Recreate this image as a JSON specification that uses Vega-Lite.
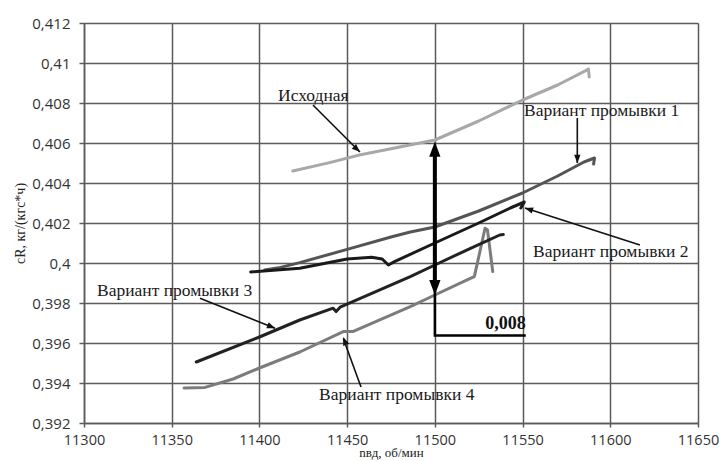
{
  "$schema": "https://vega.github.io/schema/vega-lite/v6.json",
  "width": 614,
  "height": 400,
  "autosize": {"type": "none"},
  "padding": {"left": 84, "top": 23, "right": 24, "bottom": 38},
  "background": "white",
  "config": {"view": {"stroke": null}},
  "datasets": {
    "curves": [
      {"s": "Исходная", "i": 1, "n": 11419, "c": 0.4046},
      {"s": "Исходная", "i": 2, "n": 11440, "c": 0.40502},
      {"s": "Исходная", "i": 3, "n": 11457, "c": 0.4054},
      {"s": "Исходная", "i": 4, "n": 11480, "c": 0.4058},
      {"s": "Исходная", "i": 5, "n": 11500, "c": 0.40615},
      {"s": "Исходная", "i": 6, "n": 11525, "c": 0.4071},
      {"s": "Исходная", "i": 7, "n": 11550, "c": 0.40815},
      {"s": "Исходная", "i": 8, "n": 11570, "c": 0.4089},
      {"s": "Исходная", "i": 9, "n": 11586, "c": 0.40962},
      {"s": "Исходная", "i": 10, "n": 11587.5, "c": 0.4097},
      {"s": "Исходная", "i": 11, "n": 11588, "c": 0.4093},

      {"s": "Вариант 4", "i": 1, "n": 11357, "c": 0.39375},
      {"s": "Вариант 4", "i": 2, "n": 11369, "c": 0.39378},
      {"s": "Вариант 4", "i": 3, "n": 11385, "c": 0.3942},
      {"s": "Вариант 4", "i": 4, "n": 11400, "c": 0.39475},
      {"s": "Вариант 4", "i": 5, "n": 11423, "c": 0.39555},
      {"s": "Вариант 4", "i": 6, "n": 11447.8, "c": 0.39657},
      {"s": "Вариант 4", "i": 7, "n": 11453.5, "c": 0.39658},
      {"s": "Вариант 4", "i": 8, "n": 11486, "c": 0.39782},
      {"s": "Вариант 4", "i": 9, "n": 11500, "c": 0.3984},
      {"s": "Вариант 4", "i": 10, "n": 11519, "c": 0.39918},
      {"s": "Вариант 4", "i": 11, "n": 11522.5, "c": 0.39932},
      {"s": "Вариант 4", "i": 12, "n": 11525.5, "c": 0.4005},
      {"s": "Вариант 4", "i": 13, "n": 11528.6, "c": 0.40174},
      {"s": "Вариант 4", "i": 14, "n": 11530, "c": 0.40165},
      {"s": "Вариант 4", "i": 15, "n": 11533, "c": 0.39957},

      {"s": "Вариант 1", "i": 1, "n": 11403, "c": 0.39965},
      {"s": "Вариант 1", "i": 2, "n": 11412, "c": 0.39978},
      {"s": "Вариант 1", "i": 3, "n": 11423, "c": 0.40002},
      {"s": "Вариант 1", "i": 4, "n": 11450, "c": 0.40068},
      {"s": "Вариант 1", "i": 5, "n": 11475, "c": 0.4013},
      {"s": "Вариант 1", "i": 6, "n": 11486, "c": 0.40155},
      {"s": "Вариант 1", "i": 7, "n": 11500, "c": 0.4018},
      {"s": "Вариант 1", "i": 8, "n": 11525, "c": 0.4026},
      {"s": "Вариант 1", "i": 9, "n": 11550, "c": 0.4035},
      {"s": "Вариант 1", "i": 10, "n": 11570, "c": 0.40435},
      {"s": "Вариант 1", "i": 11, "n": 11585, "c": 0.40505},
      {"s": "Вариант 1", "i": 12, "n": 11591, "c": 0.40525},
      {"s": "Вариант 1", "i": 13, "n": 11590.5, "c": 0.40495},

      {"s": "Вариант 3", "i": 1, "n": 11364, "c": 0.39505},
      {"s": "Вариант 3", "i": 2, "n": 11400, "c": 0.3963},
      {"s": "Вариант 3", "i": 3, "n": 11423, "c": 0.39715},
      {"s": "Вариант 3", "i": 4, "n": 11442, "c": 0.39774},
      {"s": "Вариант 3", "i": 5, "n": 11443.7, "c": 0.39757},
      {"s": "Вариант 3", "i": 6, "n": 11446, "c": 0.39779},
      {"s": "Вариант 3", "i": 7, "n": 11486, "c": 0.39932},
      {"s": "Вариант 3", "i": 8, "n": 11500, "c": 0.3999},
      {"s": "Вариант 3", "i": 9, "n": 11520, "c": 0.40072},
      {"s": "Вариант 3", "i": 10, "n": 11537, "c": 0.4014},
      {"s": "Вариант 3", "i": 11, "n": 11539, "c": 0.40142},

      {"s": "Вариант 2", "i": 1, "n": 11395, "c": 0.39955},
      {"s": "Вариант 2", "i": 2, "n": 11423, "c": 0.39974},
      {"s": "Вариант 2", "i": 3, "n": 11450, "c": 0.4002},
      {"s": "Вариант 2", "i": 4, "n": 11464, "c": 0.40029},
      {"s": "Вариант 2", "i": 5, "n": 11470, "c": 0.4002},
      {"s": "Вариант 2", "i": 6, "n": 11473.5, "c": 0.3999},
      {"s": "Вариант 2", "i": 7, "n": 11477, "c": 0.40007},
      {"s": "Вариант 2", "i": 8, "n": 11500, "c": 0.401},
      {"s": "Вариант 2", "i": 9, "n": 11525, "c": 0.402},
      {"s": "Вариант 2", "i": 10, "n": 11543, "c": 0.40275},
      {"s": "Вариант 2", "i": 11, "n": 11551, "c": 0.40305},
      {"s": "Вариант 2", "i": 12, "n": 11549, "c": 0.40275}
    ],
    "arrows": [
      {"a": "a1", "i": 1, "n": 11430.5, "c": 0.4079},
      {"a": "a1", "i": 2, "n": 11457.3, "c": 0.40555},
      {"a": "a2", "i": 1, "n": 11581.2, "c": 0.40725},
      {"a": "a2", "i": 2, "n": 11581.2, "c": 0.405},
      {"a": "a3", "i": 1, "n": 11616.9, "c": 0.4009},
      {"a": "a3", "i": 2, "n": 11551.4, "c": 0.40275},
      {"a": "a4", "i": 1, "n": 11366.1, "c": 0.39824},
      {"a": "a4", "i": 2, "n": 11408.9, "c": 0.39674},
      {"a": "a5", "i": 1, "n": 11457.9, "c": 0.3938},
      {"a": "a5", "i": 2, "n": 11447.8, "c": 0.39623}
    ],
    "labels": [
      {"t": "Исходная", "n": 11410.6, "c": 0.40835},
      {"t": "Вариант промывки 1", "n": 11550.8, "c": 0.4076},
      {"t": "Вариант промывки 2", "n": 11556, "c": 0.40055},
      {"t": "Вариант промывки 3", "n": 11307.4, "c": 0.3986},
      {"t": "Вариант промывки 4", "n": 11434, "c": 0.3934}
    ]
  },
  "encoding": {
    "x": {
      "field": "n",
      "type": "quantitative",
      "scale": {"domain": [11300, 11650], "nice": false, "zero": false},
      "axis": {
        "values": [11300, 11350, 11400, 11450, 11500, 11550, 11600, 11650],
        "format": "d",
        "grid": true,
        "gridColor": "#5a5a5a",
        "gridWidth": 1.5,
        "domainColor": "#5a5a5a",
        "domainWidth": 1.5,
        "tickColor": "#5a5a5a",
        "tickWidth": 1.5,
        "tickSize": 4,
        "labelFont": "Open Sans",
        "labelFontSize": 14.5,
        "labelColor": "#333333",
        "labelPadding": 6,
        "labelFlush": false,
        "labelOverlap": false,
        "title": "nвд, об/мин",
        "titleFont": "Liberation Serif",
        "titleFontSize": 13,
        "titleFontWeight": "normal",
        "titleColor": "#222222",
        "titlePadding": 0
      }
    },
    "y": {
      "field": "c",
      "type": "quantitative",
      "scale": {"domain": [0.392, 0.412], "nice": false, "zero": false},
      "axis": {
        "values": [0.392, 0.394, 0.396, 0.398, 0.4, 0.402, 0.404, 0.406, 0.408, 0.41, 0.412],
        "labelExpr": "replace(format(datum.value, '~g'), '.', ',')",
        "grid": true,
        "gridColor": "#5a5a5a",
        "gridWidth": 1.5,
        "domainColor": "#5a5a5a",
        "domainWidth": 1.5,
        "tickColor": "#5a5a5a",
        "tickWidth": 1.5,
        "tickSize": 5,
        "labelFont": "Open Sans",
        "labelFontSize": 15,
        "labelColor": "#333333",
        "labelPadding": 9,
        "labelFlush": false,
        "labelOverlap": false,
        "title": "cR, кг/(кгс*ч)",
        "titleFont": "Liberation Serif",
        "titleFontSize": 14,
        "titleFontWeight": "normal",
        "titleColor": "#222222",
        "titlePadding": 4
      }
    }
  },
  "layer": [
    {
      "data": {"name": "curves"},
      "mark": {"type": "line", "strokeWidth": 3, "strokeCap": "round", "strokeJoin": "round"},
      "encoding": {
        "color": {
          "field": "s",
          "type": "nominal",
          "scale": {
            "domain": ["Исходная", "Вариант 4", "Вариант 1", "Вариант 3", "Вариант 2"],
            "range": ["#a8a8a8", "#7c7c7c", "#545454", "#222222", "#1a1a1a"]
          },
          "legend": null
        },
        "order": {"field": "i", "type": "quantitative"}
      }
    },
    {
      "data": {"name": "arrows"},
      "mark": {"type": "line", "strokeWidth": 1.6, "color": "#111111"},
      "encoding": {
        "detail": {"field": "a", "type": "nominal"},
        "order": {"field": "i", "type": "quantitative"}
      }
    },
    {
      "data": {"values": [{"n": 11455.6, "c": 0.40569}]},
      "mark": {"type": "point", "shape": "M0,-1L0.75,1L-0.75,1Z", "size": 70, "filled": true, "opacity": 1, "color": "#111111", "angle": 133}
    },
    {
      "data": {"values": [{"n": 11581.2, "c": 0.4052}]},
      "mark": {"type": "point", "shape": "M0,-1L0.75,1L-0.75,1Z", "size": 70, "filled": true, "opacity": 1, "color": "#111111", "angle": 180}
    },
    {
      "data": {"values": [{"n": 11553.5, "c": 0.40269}]},
      "mark": {"type": "point", "shape": "M0,-1L0.75,1L-0.75,1Z", "size": 70, "filled": true, "opacity": 1, "color": "#111111", "angle": 288}
    },
    {
      "data": {"values": [{"n": 11406.8, "c": 0.39681}]},
      "mark": {"type": "point", "shape": "M0,-1L0.75,1L-0.75,1Z", "size": 70, "filled": true, "opacity": 1, "color": "#111111", "angle": 112}
    },
    {
      "data": {"values": [{"n": 11448.6, "c": 0.3961}]},
      "mark": {"type": "point", "shape": "M0,-1L0.75,1L-0.75,1Z", "size": 70, "filled": true, "opacity": 1, "color": "#111111", "angle": 340}
    },
    {
      "data": {"values": [{"n": 11500, "c": 0.4055}, {"n": 11500, "c": 0.399}]},
      "mark": {"type": "line", "strokeWidth": 4, "color": "#000000"},
      "encoding": {}
    },
    {
      "data": {"values": [{"i": 1, "n": 11500, "c": 0.3986}, {"i": 2, "n": 11500, "c": 0.39637}, {"i": 3, "n": 11551.8, "c": 0.39637}]},
      "mark": {"type": "line", "strokeWidth": 2.5, "color": "#000000"},
      "encoding": {"order": {"field": "i", "type": "quantitative"}}
    },
    {
      "data": {"values": [{"n": 11500, "c": 0.40569}]},
      "mark": {"type": "point", "shape": "M0,-1L0.75,1L-0.75,1Z", "size": 225, "filled": true, "opacity": 1, "color": "#000000", "angle": 0}
    },
    {
      "data": {"values": [{"n": 11500, "c": 0.39878}]},
      "mark": {"type": "point", "shape": "M0,-1L0.75,1L-0.75,1Z", "size": 225, "filled": true, "opacity": 1, "color": "#000000", "angle": 180}
    },
    {
      "data": {"name": "labels"},
      "mark": {"type": "text", "align": "left", "baseline": "middle", "font": "Liberation Serif", "fontSize": 17.5, "color": "#1a1a1a"},
      "encoding": {"text": {"field": "t", "type": "nominal"}}
    },
    {
      "data": {"values": [{"t": "0,008", "n": 11551.8, "c": 0.39695}]},
      "mark": {"type": "text", "align": "right", "baseline": "middle", "font": "Liberation Serif", "fontSize": 18, "fontWeight": "bold", "color": "#111111"},
      "encoding": {"text": {"field": "t", "type": "nominal"}}
    }
  ]
}
